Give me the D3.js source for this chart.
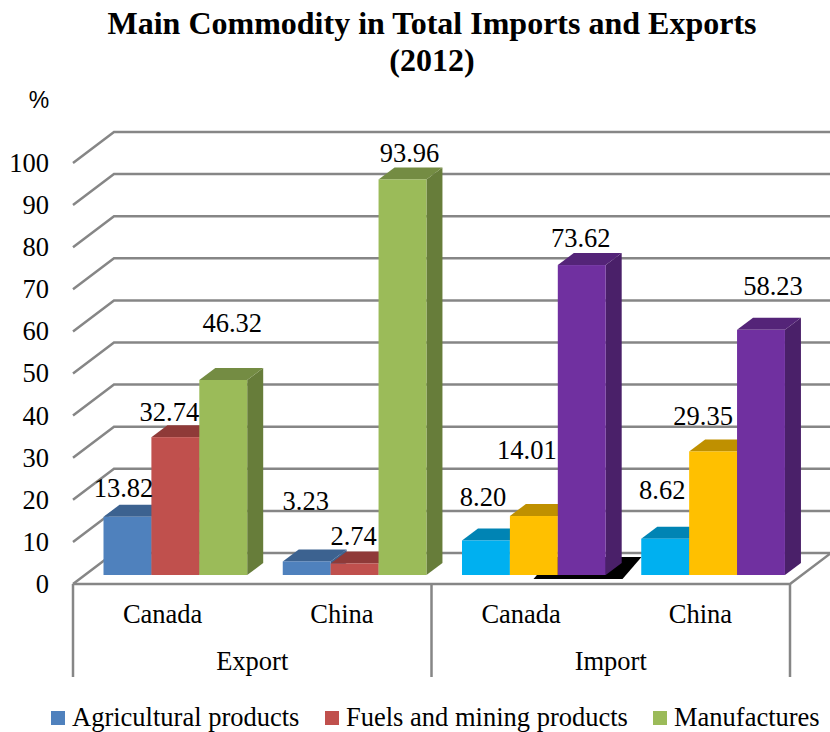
<!DOCTYPE html>
<html>
<head>
<meta charset="utf-8">
<script src="https://cdn.jsdelivr.net/npm/d3@7"></script>
<style>
  html, body { margin: 0; padding: 0; background: #fff; }
  svg { display: block; }
  text { font-family: "Liberation Serif", serif; fill: #000; }
</style>
</head>
<body>
<div id="vis"></div>
<script>
var categories = ["Canada", "China", "Canada", "China"];
var groups = ["Export", "Export", "Import", "Import"];
var seriesNames = ["Agricultural products", "Fuels and mining products", "Manufactures"];
var agricultural = [13.82, 3.23, 8.20, 8.62];
var fuels = [32.74, 2.74, 14.01, 29.35];
var manufactures = [46.32, 93.96, 73.62, 58.23];
var yTicks = [0, 10, 20, 30, 40, 50, 60, 70, 80, 90, 100];

// original colours change for the import half of the chart
var exportColors = [
  {front: "#4f81bd", top: "#3c6290", side: "#3c6290"},
  {front: "#c0504d", top: "#8f3a38", side: "#8f3a38"},
  {front: "#9bbb59", top: "#748c43", side: "#677d3a"}
];
var importColors = [
  {front: "#00b0f0", top: "#0084b4", side: "#0084b4"},
  {front: "#ffc000", top: "#bf9000", side: "#bf9000"},
  {front: "#7030a0", top: "#542478", side: "#4a2069"}
];

// hand nudges for the data labels, same order as the series
var labelNudge = [
  [[-4, -20], [-1, -51], [-3, -34], [-3, -40]],
  [[-6, -16], [-1, -18], [-7, -57], [-10, -26]],
  [[9, -48], [7, -17], [-1, -18], [12, -35]]
];

var svg = d3.select("#vis").append("svg")
  .attr("width", 830)
  .attr("height", 732);

var x = d3.scaleBand()
  .domain(d3.range(4))
  .range([73, 790]);

var xInner = d3.scaleBand()
  .domain(d3.range(3))
  .range([30.5, 174.2]);

var y = d3.scaleLinear()
  .domain([0, 100])
  .range([575, 154]);

var wallDx = 41, wallDy = 22, frontDy = 9;
var barDx = 16, barDy = 12;
var gridColor = "#868686";
var textSize = 26.5;

function pts(a) { return a.map(function(p) { return p.join(","); }).join(" "); }

svg.append("text")
  .attr("x", 432).attr("y", 34)
  .attr("text-anchor", "middle")
  .attr("font-size", 32).attr("font-weight", "bold")
  .text("Main Commodity in Total Imports and Exports");
svg.append("text")
  .attr("x", 432).attr("y", 71)
  .attr("text-anchor", "middle")
  .attr("font-size", 32).attr("font-weight", "bold")
  .text("(2012)");

svg.append("text")
  .attr("x", 39).attr("y", 108)
  .attr("text-anchor", "middle")
  .attr("font-size", 23)
  .style("font-family", "'Liberation Sans', sans-serif")
  .text("%");

// back wall and side wall gridlines
var grid = svg.append("g")
  .attr("fill", "none")
  .attr("stroke", gridColor)
  .attr("stroke-width", 2.5);

grid.selectAll("polyline")
  .data(yTicks)
  .enter().append("polyline")
  .attr("points", function(d) {
    return pts([
      [x.range()[0], y(d) + frontDy],
      [x.range()[0] + wallDx, y(d) - wallDy],
      [x.range()[1] + wallDx, y(d) - wallDy]
    ]);
  });

// floor edge and the category dividers
var floorY = y(0) + frontDy;
grid.append("polyline")
  .attr("points", pts([
    [x.range()[0], floorY],
    [x.range()[1], floorY],
    [x.range()[1] + wallDx, y(0) - wallDy]
  ]));

grid.selectAll("line")
  .data([x(0), x(2), x.range()[1]])
  .enter().append("line")
  .attr("x1", function(d) { return d; })
  .attr("x2", function(d) { return d; })
  .attr("y1", floorY)
  .attr("y2", 677);

// stray black shape on the floor under the import Canada group
var blackLeft = x(2) + 102, blackRight = x(2) + 191, blackY = y(-0.95);
svg.append("polygon")
  .attr("fill", "#000")
  .attr("points", pts([
    [blackLeft, blackY],
    [blackRight, blackY],
    [blackRight + 19, blackY - wallDy],
    [blackLeft + 19, blackY - wallDy]
  ]));

var seriesData = [agricultural, fuels, manufactures];
var bars = [];
seriesData.forEach(function(values, s) {
  values.forEach(function(v, c) {
    bars.push({
      value: v, s: s, c: c,
      colors: (groups[c] === "Export" ? exportColors : importColors)[s]
    });
  });
});
bars.sort(function(a, b) { return a.c - b.c || a.s - b.s; });

var bar = svg.append("g").selectAll("g")
  .data(bars)
  .enter().append("g");

function barLeft(d) { return x(d.c) + xInner(d.s); }

bar.append("polygon")
  .attr("fill", function(d) { return d.colors.side; })
  .attr("points", function(d) {
    var r = barLeft(d) + xInner.bandwidth();
    return pts([
      [r, y(d.value)],
      [r + barDx, y(d.value) - barDy],
      [r + barDx, y(0) - barDy],
      [r, y(0)]
    ]);
  });

bar.append("polygon")
  .attr("fill", function(d) { return d.colors.top; })
  .attr("points", function(d) {
    var l = barLeft(d), r = l + xInner.bandwidth();
    return pts([
      [l, y(d.value)],
      [l + barDx, y(d.value) - barDy],
      [r + barDx, y(d.value) - barDy],
      [r, y(d.value)]
    ]);
  });

bar.append("rect")
  .attr("fill", function(d) { return d.colors.front; })
  .attr("x", barLeft)
  .attr("y", function(d) { return y(d.value); })
  .attr("width", xInner.bandwidth())
  .attr("height", function(d) { return y(0) - y(d.value); });

svg.append("g").selectAll("text")
  .data(bars)
  .enter().append("text")
  .attr("text-anchor", "middle")
  .attr("font-size", textSize)
  .attr("x", function(d) { return barLeft(d) + xInner.bandwidth() / 2 + labelNudge[d.s][d.c][0]; })
  .attr("y", function(d) { return y(d.value) + labelNudge[d.s][d.c][1]; })
  .text(function(d) { return d.value.toFixed(2); });

// y axis, sits on the front edge of the side wall
var yAxis = svg.append("g")
  .attr("transform", "translate(57," + frontDy + ")")
  .call(d3.axisLeft(y).tickValues(yTicks).tickSize(0).tickPadding(8));
yAxis.select(".domain").remove();
yAxis.selectAll("text")
  .attr("font-size", textSize)
  .style("font-family", "'Liberation Serif', serif");

svg.append("g").selectAll("text")
  .data(categories)
  .enter().append("text")
  .attr("text-anchor", "middle")
  .attr("font-size", textSize)
  .attr("x", function(d, i) { return x(i) + x.bandwidth() / 2; })
  .attr("y", 623)
  .text(function(d) { return d; });

var groupNames = ["Export", "Import"];
svg.append("g").selectAll("text")
  .data(groupNames)
  .enter().append("text")
  .attr("text-anchor", "middle")
  .attr("font-size", textSize)
  .attr("x", function(d, i) { return x(i * 2) + x.bandwidth(); })
  .attr("y", 670)
  .text(function(d) { return d; });

var legendX = [51, 325, 653];
var legend = svg.append("g").selectAll("g")
  .data(seriesNames)
  .enter().append("g")
  .attr("transform", function(d, i) { return "translate(" + legendX[i] + ",711)"; });

legend.append("rect")
  .attr("width", 14)
  .attr("height", 14)
  .attr("fill", function(d, i) { return exportColors[i].front; });

legend.append("text")
  .attr("x", 21)
  .attr("y", 15)
  .attr("font-size", textSize)
  .text(function(d) { return d; });
</script>
</body>
</html>
